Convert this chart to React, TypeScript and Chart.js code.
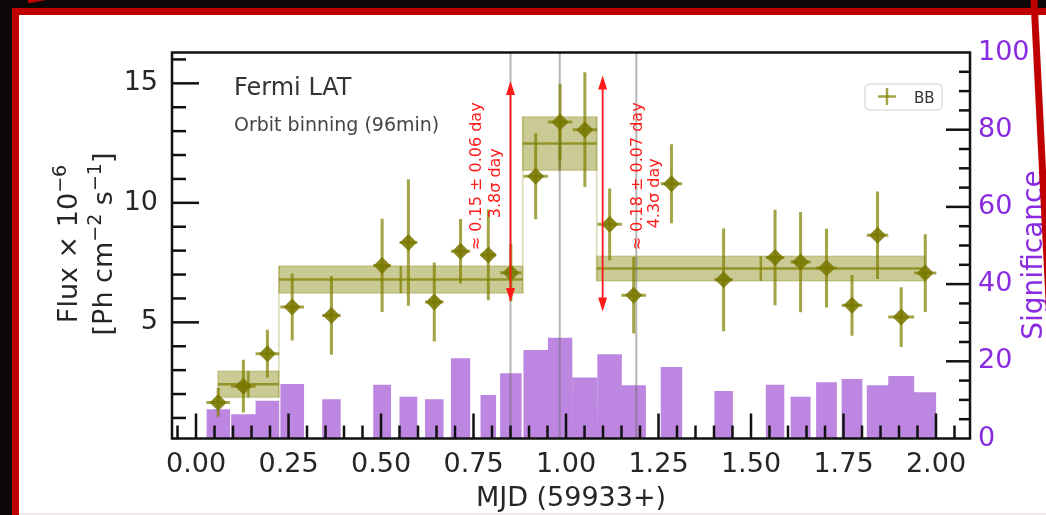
import React, { useEffect, useRef } from 'react';
import Chart from 'chart.js/auto';

// Orbit-binned Fermi LAT light curve, MJD 59933+
const binCenter = [0.060, 0.128, 0.193, 0.260, 0.366, 0.503, 0.574, 0.644, 0.715, 0.790, 0.851, 0.918, 0.984, 1.051, 1.118, 1.183, 1.285, 1.426, 1.565, 1.634, 1.704, 1.773, 1.842, 1.906, 1.971];
const binHalfWidth = [0.032, 0.033, 0.032, 0.032, 0.025, 0.024, 0.024, 0.025, 0.026, 0.021, 0.029, 0.033, 0.033, 0.033, 0.033, 0.033, 0.029, 0.025, 0.025, 0.027, 0.028, 0.028, 0.029, 0.035, 0.030];
const flux = [1.65, 2.33, 3.69, 5.64, 5.29, 7.38, 8.34, 5.85, 7.97, 7.82, 7.08, 11.11, 13.38, 13.06, 9.10, 6.13, 10.80, 6.78, 7.71, 7.52, 7.27, 5.71, 8.64, 5.22, 7.06];
const fluxErr = [0.6, 1.1, 1.0, 1.4, 1.65, 1.95, 2.65, 1.65, 1.35, 1.9, 1.2, 1.8, 1.6, 2.4, 1.5, 1.6, 1.65, 2.15, 2.0, 2.1, 1.65, 1.27, 1.83, 1.25, 1.63];
const significance = [7.6, 6.3, 9.8, 14.1, 10.2, 13.9, 10.8, 10.2, 20.8, 11.3, 16.9, 22.9, 26.1, 15.8, 21.8, 13.8, 18.5, 12.3, 13.9, 10.8, 14.6, 15.4, 13.8, 16.2, 12.0];

// Bayesian blocks
const bbEdges = [0.059, 0.224, 0.883, 1.083, 1.970];
const bbFlux = [2.41, 6.79, 12.48, 7.25];
const bbErr = [0.55, 0.57, 1.12, 0.52];

// Flare epochs and rise / decay time arrows
const flareEpochs = [0.850, 0.983, 1.190];
const arrowX = [0.850, 1.099];
const arrowTop = [15.1, 15.33];
const arrowBottom = [5.85, 5.45];
const arrowText = [
  ['≈ 0.15 ± 0.06 day', '3.8σ day'],
  ['≈ 0.18 ± 0.07 day', '4.3σ day'],
];

// Axes
const xTicks = [0, 0.25, 0.5, 0.75, 1.0, 1.25, 1.5, 1.75, 2.0];
const fluxTicks = [5, 10, 15];
const sigTicks = [0, 20, 40, 60, 80, 100];
const X_MIN = -0.0649;
const X_MAX = 2.0919;
const FLUX_MIN = 0.14;
const FLUX_MAX = 16.29;

const OLIVE = 'rgba(120,120,0,0.88)';
const OLIVE_LINE = 'rgba(128,128,0,0.72)';
const OLIVE_FILL = 'rgba(128,128,0,0.42)';
const OLIVE_EDGE = 'rgba(128,128,0,0.25)';
const PURPLE = '#8a2be2';
const PURPLE_FILL = 'rgba(148,60,205,0.62)';
const INK = '#262626';
const FONT = "'DejaVu Sans', 'Liberation Sans', sans-serif";

// rotated label placement (data coordinates) for the arrow annotations
const arrowTextPos = [
  [{ x: 0.7595, y: 11.11 }, { x: 0.8108, y: 10.82 }],
  [{ x: 1.1946, y: 11.11 }, { x: 1.2405, y: 10.40 }],
];

type Part = { t: string; sup?: boolean };

function drawRich(ctx: CanvasRenderingContext2D, parts: Part[], size: number, supSize: number, raise: number) {
  let total = 0;
  const widths = parts.map((p) => {
    ctx.font = `${p.sup ? supSize : size}px ${FONT}`;
    const w = ctx.measureText(p.t).width;
    total += w;
    return w;
  });
  let x = -total / 2;
  ctx.textAlign = 'left';
  ctx.textBaseline = 'alphabetic';
  parts.forEach((p, i) => {
    ctx.font = `${p.sup ? supSize : size}px ${FONT}`;
    ctx.fillText(p.t, x, p.sup ? -raise : 0);
    x += widths[i];
  });
}

function seg(ctx: CanvasRenderingContext2D, x1: number, y1: number, x2: number, y2: number) {
  ctx.beginPath();
  ctx.moveTo(x1, y1);
  ctx.lineTo(x2, y2);
  ctx.stroke();
}

const decor = {
  id: 'lightcurveDecor',
  beforeDraw(chart: any) {
    const { ctx, width, height } = chart;
    ctx.save();
    ctx.fillStyle = '#0c0808';
    ctx.fillRect(0, 0, width, height);
    ctx.fillStyle = '#ffffff';
    ctx.fillRect(19, 15, width - 19, height - 15);
    ctx.fillStyle = 'rgba(210,170,170,0.35)';
    ctx.fillRect(19, 513, width - 19, 1.5);
    ctx.restore();
  },
  beforeDatasetDraw(chart: any, args: any) {
    if (args.index !== 1) return;
    const { ctx, chartArea: a } = chart;
    const xs = chart.scales.x;
    const ys = chart.scales.y;
    ctx.save();
    ctx.beginPath();
    ctx.rect(a.left, a.top, a.right - a.left, a.bottom - a.top);
    ctx.clip();

    // Bayesian block bands
    for (let i = 0; i < bbFlux.length; i++) {
      const x0 = xs.getPixelForValue(bbEdges[i]);
      const x1 = xs.getPixelForValue(bbEdges[i + 1]);
      const yHi = ys.getPixelForValue(bbFlux[i] + bbErr[i]);
      const yLo = ys.getPixelForValue(bbFlux[i] - bbErr[i]);
      ctx.fillStyle = OLIVE_FILL;
      ctx.fillRect(x0, yHi, x1 - x0, yLo - yHi);
      ctx.strokeStyle = OLIVE_EDGE;
      ctx.lineWidth = 1.5;
      ctx.strokeRect(x0, yHi, x1 - x0, yLo - yHi);
    }
    ctx.strokeStyle = OLIVE_EDGE;
    ctx.lineWidth = 1.8;
    for (let i = 1; i < bbFlux.length; i++) {
      const x = xs.getPixelForValue(bbEdges[i]);
      const top = Math.max(bbFlux[i - 1] + bbErr[i - 1], bbFlux[i] + bbErr[i]);
      const bot = Math.min(bbFlux[i - 1] - bbErr[i - 1], bbFlux[i] - bbErr[i]);
      seg(ctx, x, ys.getPixelForValue(top), x, ys.getPixelForValue(bot));
    }
    ctx.strokeStyle = OLIVE_LINE;
    ctx.lineWidth = 2.5;
    for (let i = 0; i < bbFlux.length; i++) {
      const x0 = xs.getPixelForValue(bbEdges[i]);
      const x1 = xs.getPixelForValue(bbEdges[i + 1]);
      const xc = xs.getPixelForValue((bbEdges[i] + bbEdges[i + 1]) / 2);
      const ym = ys.getPixelForValue(bbFlux[i]);
      seg(ctx, x0, ym, x1, ym);
      seg(ctx, xc, ys.getPixelForValue(bbFlux[i] + bbErr[i]), xc, ys.getPixelForValue(bbFlux[i] - bbErr[i]));
    }

    // flare epochs
    ctx.strokeStyle = 'rgba(110,110,110,0.5)';
    ctx.lineWidth = 2;
    flareEpochs.forEach((t) => {
      const x = xs.getPixelForValue(t);
      seg(ctx, x, a.top, x, a.bottom);
    });

    // flux error bars
    ctx.strokeStyle = OLIVE_LINE;
    ctx.lineWidth = 3;
    for (let i = 0; i < flux.length; i++) {
      const x = xs.getPixelForValue(binCenter[i]);
      const y = ys.getPixelForValue(flux[i]);
      seg(ctx, x, ys.getPixelForValue(flux[i] + fluxErr[i]), x, ys.getPixelForValue(flux[i] - fluxErr[i]));
      seg(ctx, xs.getPixelForValue(binCenter[i] - binHalfWidth[i]), y, xs.getPixelForValue(binCenter[i] + binHalfWidth[i]), y);
    }
    ctx.restore();
  },
  afterDatasetsDraw(chart: any) {
    const { ctx } = chart;
    const xs = chart.scales.x;
    const ys = chart.scales.y;
    ctx.save();
    ctx.strokeStyle = '#ff1a1a';
    ctx.fillStyle = '#ff1a1a';
    ctx.lineWidth = 1.8;
    const head = 14;
    const hw = 4.5;
    arrowX.forEach((t, i) => {
      const x = xs.getPixelForValue(t);
      const yT = ys.getPixelForValue(arrowTop[i]);
      const yB = ys.getPixelForValue(arrowBottom[i]);
      seg(ctx, x, yT + head - 2, x, yB - head + 2);
      ctx.beginPath();
      ctx.moveTo(x, yT);
      ctx.lineTo(x - hw, yT + head);
      ctx.lineTo(x + hw, yT + head);
      ctx.closePath();
      ctx.fill();
      ctx.beginPath();
      ctx.moveTo(x, yB);
      ctx.lineTo(x - hw, yB - head);
      ctx.lineTo(x + hw, yB - head);
      ctx.closePath();
      ctx.fill();
    });
    ctx.font = `16px ${FONT}`;
    ctx.textAlign = 'center';
    ctx.textBaseline = 'middle';
    arrowText.forEach((lines, i) => {
      lines.forEach((txt, j) => {
        const p = arrowTextPos[i][j];
        ctx.save();
        ctx.translate(xs.getPixelForValue(p.x), ys.getPixelForValue(p.y));
        ctx.rotate(-Math.PI / 2);
        ctx.fillText(txt, 0, 0);
        ctx.restore();
      });
    });
    ctx.restore();
  },
  afterDraw(chart: any) {
    const { ctx, chartArea: a, width, height } = chart;
    const xs = chart.scales.x;
    const ys = chart.scales.y;
    const ys2 = chart.scales.y2;
    ctx.save();

    // axes frame and inward ticks
    ctx.strokeStyle = '#111111';
    ctx.lineWidth = 2.5;
    ctx.strokeRect(a.left, a.top, a.right - a.left, a.bottom - a.top);
    for (let k = -1; k <= 41; k++) {
      const x = xs.getPixelForValue(k * 0.05);
      if (x < a.left || x > a.right) continue;
      seg(ctx, x, a.bottom, x, a.bottom - (k % 5 === 0 ? 25 : 13));
    }
    for (let k = 1; k <= 16; k++) {
      const y = ys.getPixelForValue(k);
      seg(ctx, a.left, y, a.left + (k % 5 === 0 ? 27 : 14), y);
    }
    for (let k = 1; k < 20; k++) {
      const y = ys2.getPixelForValue(k * 5);
      seg(ctx, a.right, y, a.right - (k % 4 === 0 ? 24 : 11), y);
    }

    // axis titles
    ctx.fillStyle = INK;
    ctx.save();
    ctx.translate(77, 244);
    ctx.rotate(-Math.PI / 2);
    drawRich(ctx, [{ t: 'Flux × 10' }, { t: '−6', sup: true }], 27, 19, 11);
    ctx.restore();
    ctx.save();
    ctx.translate(112, 244);
    ctx.rotate(-Math.PI / 2);
    drawRich(ctx, [{ t: '[Ph cm' }, { t: '−2', sup: true }, { t: ' s' }, { t: '−1', sup: true }, { t: ']' }], 27, 19, 11);
    ctx.restore();

    ctx.font = `27px ${FONT}`;
    ctx.textAlign = 'center';
    ctx.textBaseline = 'alphabetic';
    ctx.fillText('MJD (59933+)', (a.left + a.right) / 2, 506);

    ctx.save();
    ctx.fillStyle = PURPLE;
    ctx.translate(1042, 255);
    ctx.rotate(-Math.PI / 2);
    ctx.font = `28px ${FONT}`;
    ctx.fillText('Significance', 0, 0);
    ctx.restore();

    // instrument and binning notes
    ctx.textAlign = 'left';
    ctx.fillStyle = '#333333';
    ctx.font = `24px ${FONT}`;
    ctx.fillText('Fermi LAT', a.left + 62, a.top + 42.5);
    ctx.fillStyle = '#444444';
    ctx.font = `19px ${FONT}`;
    ctx.fillText('Orbit binning (96min)', a.left + 62, a.top + 78.5);

    // legend
    const lx = a.right - 105;
    const ly = a.top + 31.5;
    ctx.beginPath();
    ctx.roundRect(lx, ly, 77, 26, 4);
    ctx.fillStyle = 'rgba(255,255,255,0.8)';
    ctx.fill();
    ctx.strokeStyle = 'rgba(204,204,204,0.9)';
    ctx.lineWidth = 1;
    ctx.stroke();
    ctx.strokeStyle = OLIVE_LINE;
    ctx.lineWidth = 2.5;
    seg(ctx, lx + 13, ly + 12.5, lx + 31, ly + 12.5);
    seg(ctx, lx + 22, ly + 4, lx + 22, ly + 21);
    ctx.fillStyle = '#333333';
    ctx.font = `15px ${FONT}`;
    ctx.fillText('BB', lx + 49, ly + 18.5);

    // red annotation frame
    ctx.fillStyle = '#c00000';
    ctx.fillRect(12, 8, width - 12, 7);
    ctx.fillRect(12, 8, 7, height - 8);
    ctx.beginPath();
    ctx.moveTo(1030.5, 0);
    ctx.lineTo(1037.5, 0);
    ctx.lineTo(1037.5 + 0.05 * height, height);
    ctx.lineTo(1030.5 + 0.05 * height, height);
    ctx.closePath();
    ctx.fill();
    ctx.beginPath();
    ctx.moveTo(28, 0);
    ctx.lineTo(46, 0);
    ctx.lineTo(30, 3);
    ctx.lineTo(28, 3);
    ctx.closePath();
    ctx.fill();
    ctx.restore();
  },
};

export default function App() {
  const canvasRef = useRef<HTMLCanvasElement | null>(null);

  useEffect(() => {
    const canvas = canvasRef.current;
    if (!canvas) return;

    const sigSteps: { x: number; y: number }[] = [];
    binCenter.forEach((c, i) => {
      const s = c - binHalfWidth[i];
      const e = c + binHalfWidth[i];
      sigSteps.push({ x: s, y: 0 }, { x: s, y: significance[i] }, { x: e, y: significance[i] }, { x: e, y: 0 });
    });
    const fluxPoints = binCenter.map((x, i) => ({ x, y: flux[i] }));

    const tickFont = { family: FONT, size: 27 };

    const chart = new Chart(canvas, {
      type: 'line',
      data: {
        datasets: [
          {
            label: 'Significance',
            data: sigSteps,
            yAxisID: 'y2',
            fill: 'origin',
            backgroundColor: PURPLE_FILL,
            borderColor: 'transparent',
            borderWidth: 0,
            pointRadius: 0,
            tension: 0,
            order: 3,
          },
          {
            label: 'Flux',
            data: fluxPoints,
            yAxisID: 'y',
            showLine: false,
            pointStyle: 'rectRot',
            pointRadius: 8.5,
            pointBackgroundColor: OLIVE,
            pointBorderWidth: 0,
            pointBorderColor: 'transparent',
            order: 1,
          },
        ],
      },
      options: {
        responsive: false,
        animation: false,
        events: [],
        layout: { padding: { top: 52.5, left: 0, right: 0, bottom: 0 } },
        plugins: { legend: { display: false }, tooltip: { enabled: false } },
        scales: {
          x: {
            type: 'linear',
            position: 'bottom',
            min: X_MIN,
            max: X_MAX,
            grid: { display: false, drawTicks: false },
            border: { display: false },
            afterBuildTicks: (s: any) => { s.ticks = xTicks.map((value) => ({ value })); },
            afterFit: (s: any) => { s.height = 76.5; },
            ticks: {
              font: tickFont,
              color: INK,
              padding: 10,
              autoSkip: false,
              maxRotation: 0,
              minRotation: 0,
              callback: (v: any) => Number(v).toFixed(2),
            },
          },
          y: {
            type: 'linear',
            position: 'left',
            min: FLUX_MIN,
            max: FLUX_MAX,
            grid: { display: false, drawTicks: false },
            border: { display: false },
            afterBuildTicks: (s: any) => { s.ticks = fluxTicks.map((value) => ({ value })); },
            afterFit: (s: any) => { s.width = 172; },
            ticks: { font: tickFont, color: INK, padding: 14, autoSkip: false, callback: (v: any) => String(v) },
          },
          y2: {
            type: 'linear',
            position: 'right',
            min: 0,
            max: 100,
            grid: { display: false, drawTicks: false },
            border: { display: false },
            afterBuildTicks: (s: any) => { s.ticks = sigTicks.map((value) => ({ value })); },
            afterFit: (s: any) => { s.width = 76; },
            ticks: { font: tickFont, color: PURPLE, padding: 8, autoSkip: false, callback: (v: any) => String(v) },
          },
        },
      },
      plugins: [decor],
    } as any);

    return () => chart.destroy();
  }, []);

  return (
    <div style={{ position: 'fixed', left: 0, top: 0, width: 1046, height: 515 }}>
      <canvas ref={canvasRef} width={1046} height={515} style={{ display: 'block' }} />
    </div>
  );
}
